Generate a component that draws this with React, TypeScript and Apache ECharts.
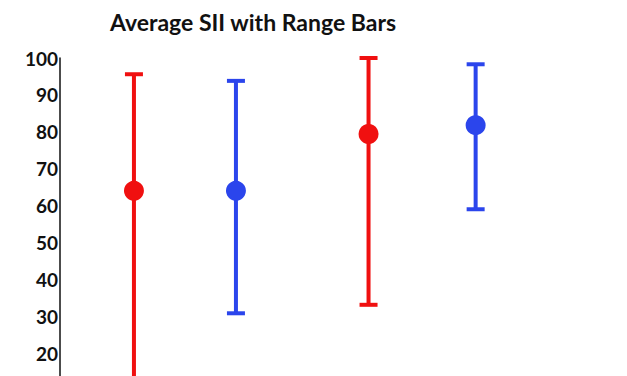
import React, { useEffect, useRef } from "react";
import * as echarts from "echarts";

const titleText = "Average SII with Range Bars";
const groups = ["Group 1", "Group 2", "Group 3", "Group 4"];
const xPositions = [1, 2, 3.3, 4.35];
const means = [64, 64, 79.4, 81.8];
const highs = [95.6, 93.8, 100, 98.3];
const lows = [5, 30.8, 33.1, 59];
const colors = ["#f01010", "#2b45ec", "#f01010", "#2b45ec"];
const yTicks = [20, 30, 40, 50, 60, 70, 80, 90, 100];
const yMin = 13.8;

export default function App() {
  const ref = useRef<HTMLDivElement>(null);
  useEffect(() => {
    document.body.style.margin = "0";
    const chart = echarts.init(ref.current!, null, { renderer: "svg" });
    const barData = groups.map((g, i) => [xPositions[i], lows[i], highs[i], i]);
    const pointData = groups.map((g, i) => ({
      value: [xPositions[i], means[i]],
      name: g,
      itemStyle: { color: colors[i], opacity: 1 },
    }));
    chart.setOption({
      animation: false,
      backgroundColor: "#ffffff",
      graphic: [
        {
          type: "text",
          x: 253,
          y: 22,
          style: {
            text: titleText,
            fontFamily: "Lato",
            fontWeight: "bold",
            fontSize: 23,
            fill: "#111111",
            textAlign: "center",
            textVerticalAlign: "middle",
          },
        },
      ],
      grid: { left: 60, top: 58, right: 0, bottom: 0, containLabel: false },
      xAxis: {
        type: "value",
        min: 0.275,
        max: 5.834,
        show: false,
      },
      yAxis: {
        type: "value",
        min: yMin,
        max: yTicks[yTicks.length - 1],
        axisLine: { show: true, lineStyle: { color: "#111111", width: 1.5 } },
        axisTick: { show: false },
        splitLine: { show: false },
        axisLabel: {
          color: "#111111",
          fontFamily: "Lato",
          fontWeight: "bold",
          fontSize: 19,
          margin: 2,
          customValues: yTicks,
        },
      },
      series: [
        {
          type: "custom",
          data: barData,
          clip: false,
          renderItem: (params: any, api: any) => {
            const x = api.value(0);
            const lo = api.coord([x, api.value(1)]);
            const hi = api.coord([x, api.value(2)]);
            const idx = api.value(3);
            const color = colors[idx];
            const capHalf = 9;
            const style = { stroke: color, lineWidth: 4 };
            return {
              type: "group",
              children: [
                { type: "line", shape: { x1: hi[0], y1: hi[1], x2: lo[0], y2: lo[1] }, style },
                { type: "line", shape: { x1: hi[0] - capHalf, y1: hi[1], x2: hi[0] + capHalf, y2: hi[1] }, style },
                { type: "line", shape: { x1: lo[0] - capHalf, y1: lo[1], x2: lo[0] + capHalf, y2: lo[1] }, style },
              ],
            };
          },
          z: 1,
        },
        {
          type: "scatter",
          data: pointData,
          symbol: "circle",
          symbolSize: 20,
          itemStyle: { opacity: 1 },
          z: 2,
        },
      ],
    });
    return () => chart.dispose();
  }, []);
  return (
    <div
      ref={ref}
      style={{ position: "absolute", left: 0, top: 0, width: 627, height: 376 }}
    />
  );
}
